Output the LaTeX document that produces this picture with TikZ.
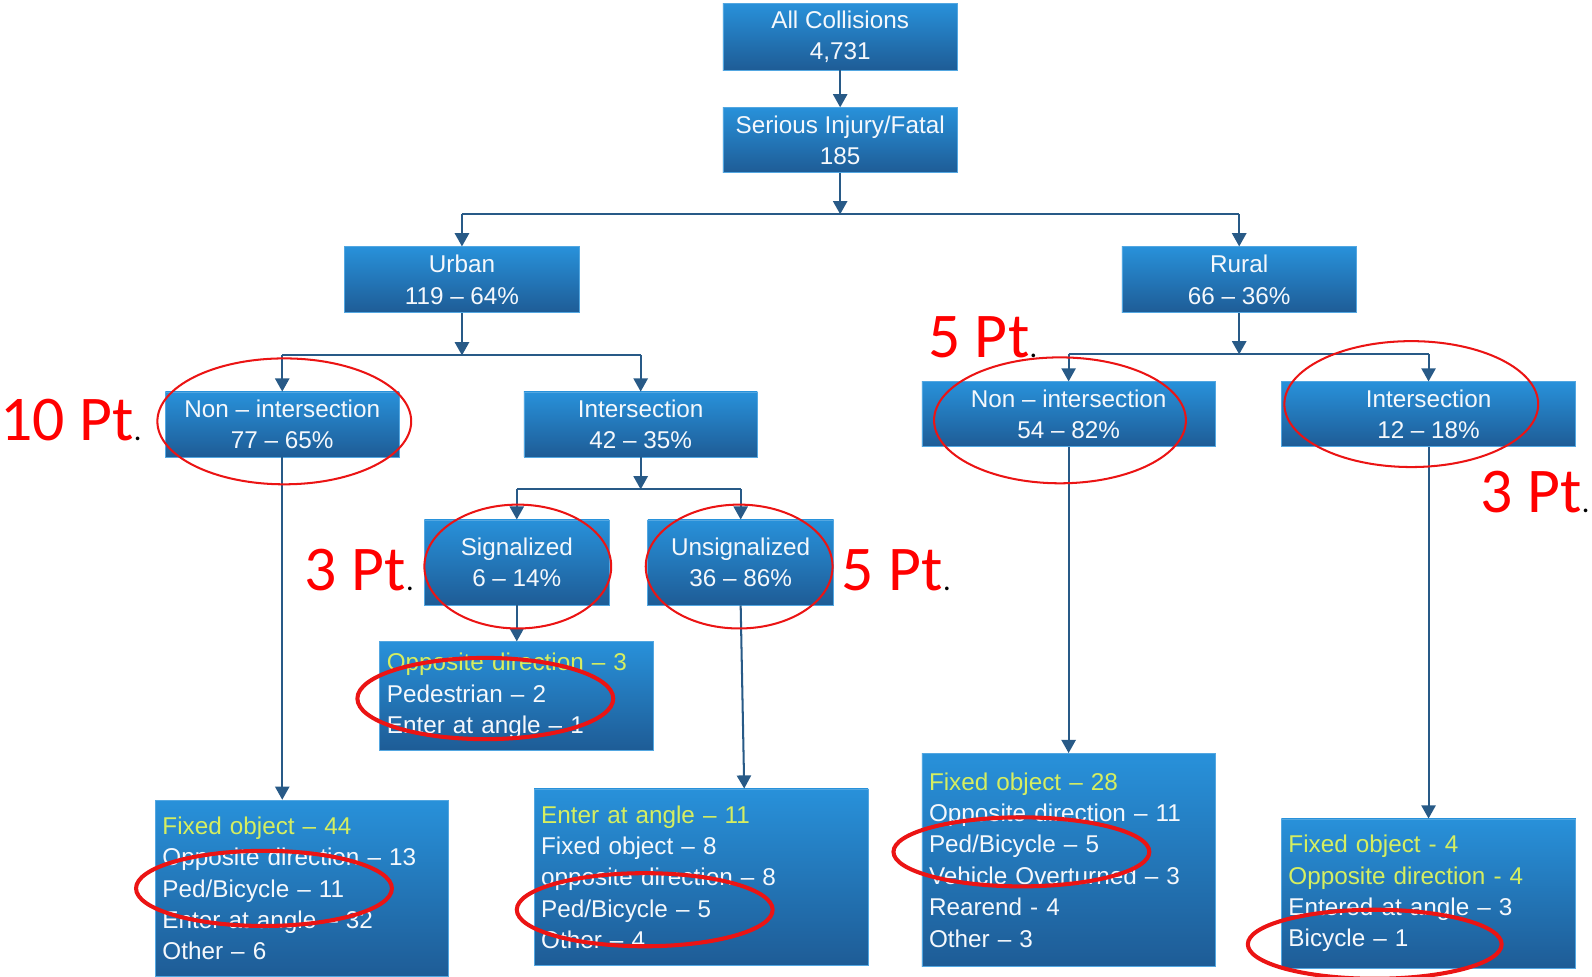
\documentclass[tikz,border=0pt]{standalone}
\usepackage{fontspec}
\setmainfont{Liberation Sans}
\newfontfamily\calfont{Carlito}
\usetikzlibrary{arrows.meta,shapes.geometric}
\definecolor{boxtop}{RGB}{40,145,218}
\definecolor{boxbot}{RGB}{30,92,150}
\definecolor{arrowc}{RGB}{40,90,135}
\definecolor{ylw}{RGB}{214,238,96}
\definecolor{txtw}{RGB}{245,248,252}
\definecolor{ringred}{RGB}{235,20,20}
\begin{document}
\begin{tikzpicture}[x=1bp,y=-1bp,
 cbox/.style={rectangle, top color=boxtop, bottom color=boxbot, draw=boxtop!80!white, line width=0.6bp, text=txtw, font=\fontsize{24}{31}\selectfont, align=center, inner sep=0pt},
 leaf/.style={cbox, align=left, inner xsep=7bp, inner ysep=0pt},
 arr/.style={draw=arrowc, line width=2bp, -{Triangle[width=14bp,length=13bp]}},
 ln/.style={draw=arrowc, line width=2bp},
 ring/.style={draw=ringred, line width=2bp},
 ringthick/.style={draw=ringred, line width=4bp},
 ptlabel/.style={font=\calfont\fontsize{63}{63}\selectfont, text=red, anchor=base west, inner sep=0pt}]
\useasboundingbox (0,0) rectangle (1568,962);

% main boxes
\node[cbox, minimum width=231bp, minimum height=66bp] (allc) at (827.5,36) {All Collisions\\4,731};
\node[cbox, minimum width=231bp, minimum height=64bp] (ser) at (827.5,138) {Serious Injury/Fatal\\185};
\node[cbox, minimum width=232bp, minimum height=65bp] (urban) at (455,275.5) {Urban\\119 -- 64\%};
\node[cbox, minimum width=231bp, minimum height=65bp] (rural) at (1220.5,275.5) {Rural\\66 -- 36\%};
\node[cbox, minimum width=230bp, minimum height=64bp] (un) at (278,418) {Non -- intersection\\77 -- 65\%};
\node[cbox, minimum width=230bp, minimum height=64bp] (ui) at (631,418) {Intersection\\42 -- 35\%};
\node[cbox, minimum width=182bp, minimum height=84bp] (sig) at (509,554) {Signalized\\6 -- 14\%};
\node[cbox, minimum width=183bp, minimum height=84bp] (unsig) at (729.5,554) {Unsignalized\\36 -- 86\%};
\node[cbox, minimum width=289bp, minimum height=64bp] (rn) at (1052.5,408) {Non -- intersection\\54 -- 82\%};
\node[cbox, minimum width=290bp, minimum height=64bp] (ri) at (1407,408) {Intersection\\12 -- 18\%};

% leaf boxes
\node[leaf, minimum width=269bp, text width=255bp, minimum height=107bp] (leafS) at (508.5,685.5)
 {\textcolor{ylw}{Opposite direction -- 3}\\Pedestrian -- 2\\Enter at angle -- 1};
\node[leaf, minimum width=329bp, text width=315bp, minimum height=174bp] (leafUS) at (690.5,864)
 {\textcolor{ylw}{Enter at angle -- 11}\\Fixed object -- 8\\opposite direction -- 8\\Ped/Bicycle -- 5\\Other -- 4};
\node[leaf, minimum width=289bp, text width=275bp, minimum height=174bp] (leafUN) at (297.5,875)
 {\textcolor{ylw}{Fixed object -- 44}\\Opposite direction -- 13\\Ped/Bicycle -- 11\\Enter at angle -- 32\\Other -- 6};
\node[leaf, minimum width=289bp, text width=275bp, minimum height=210bp] (leafRN) at (1052.5,847)
 {\textcolor{ylw}{Fixed object -- 28}\\Opposite direction -- 11\\Ped/Bicycle -- 5\\Vehicle Overturned -- 3\\Rearend - 4\\Other -- 3};
\node[leaf, minimum width=290bp, text width=276bp, minimum height=147bp] (leafRI) at (1407,880)
 {\textcolor{ylw}{Fixed object - 4}\\\textcolor{ylw}{Opposite direction - 4}\\Entered at angle -- 3\\Bicycle -- 1};

% connectors
\coordinate (s1) at (827.5,211);
\draw[arr] (allc.south) -- (ser.north);
\draw[arr] (ser.south) -- (s1);
\draw[ln] (urban.north |- s1) -- (rural.north |- s1);
\draw[arr] (urban.north |- s1) -- (urban.north);
\draw[arr] (rural.north |- s1) -- (rural.north);

\coordinate (s2) at (455,350);
\draw[arr] (urban.south) -- (s2);
\draw[ln] (un.north |- s2) -- (ui.north |- s2);
\draw[arr] (un.north |- s2) -- (un.north);
\draw[arr] (ui.north |- s2) -- (ui.north);

\coordinate (s3) at (631,482);
\draw[arr] (ui.south) -- (s3);
\draw[ln] (sig.north |- s3) -- (unsig.north |- s3);
\draw[arr] (sig.north |- s3) -- (sig.north);
\draw[arr] (unsig.north |- s3) -- (unsig.north);

\draw[arr] (sig.south) -- (sig.south |- leafS.north);
\coordinate (usin) at (733,0);
\draw[arr] (unsig.south) -- (usin |- leafUS.north);
\draw[arr] (un.south) -- (un.south |- leafUN.north);

\coordinate (s4) at (1220.5,349);
\draw[arr] (rural.south) -- (s4);
\draw[ln] (rn.north |- s4) -- (ri.north |- s4);
\draw[arr] (rn.north |- s4) -- (rn.north);
\draw[arr] (ri.north |- s4) -- (ri.north);
\draw[arr] (rn.south) -- (rn.south |- leafRN.north);
\draw[arr] (ri.south) -- (ri.south |- leafRI.north);

% red rings
\draw[ring] (280,415) ellipse [x radius=125, y radius=62];
\draw[ring] (510,558) ellipse [x radius=92, y radius=61];
\draw[ring] (728,558) ellipse [x radius=92, y radius=61];
\draw[ring] (1044,414) ellipse [x radius=124, y radius=62];
\draw[ring] (1390,398) ellipse [x radius=125, y radius=62];
\draw[ringthick] (478,688) ellipse [x radius=126, y radius=40];
\draw[ringthick] (260,875) ellipse [x radius=126, y radius=37];
\draw[ringthick] (635,896) ellipse [x radius=126, y radius=36];
\draw[ringthick] (1006,839) ellipse [x radius=126, y radius=34];
\draw[ringthick] (1354,930) ellipse [x radius=125, y radius=34];

% point labels
\node[ptlabel] (p10) at (0,434) {10 Pt\textcolor{black}{\fontsize{30}{30}\selectfont.}};
\node[ptlabel] (p5a) at (914,352) {5 Pt\textcolor{black}{\fontsize{30}{30}\selectfont.}};
\node[ptlabel] (p3a) at (300,582) {3 Pt\textcolor{black}{\fontsize{30}{30}\selectfont.}};
\node[ptlabel] (p5b) at (829,582) {5 Pt\textcolor{black}{\fontsize{30}{30}\selectfont.}};
\node[ptlabel] (p3b) at (1458,505) {3 Pt\textcolor{black}{\fontsize{30}{30}\selectfont.}};
\end{tikzpicture}
\end{document}
